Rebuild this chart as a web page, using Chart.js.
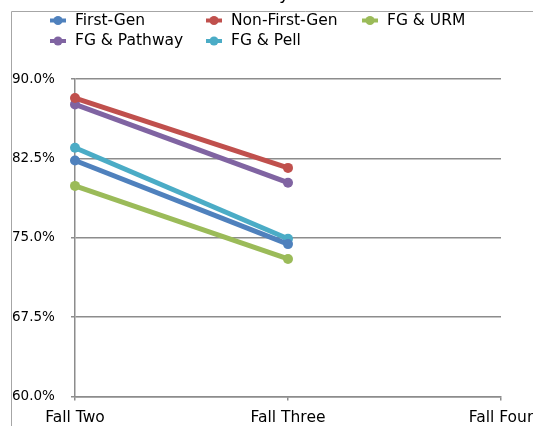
<!DOCTYPE html>
<html lang="en">
<head>
    <meta charset="UTF-8">
    <title>First-Gen persistence</title>
    <script src="https://cdn.jsdelivr.net/npm/chart.js"></script>
    <style>
        html, body { margin: 0; padding: 0; background: #fff; overflow: hidden; }
        #wrap { position: relative; width: 600px; height: 426px; }
    </style>
</head>
<body>
    <div id="wrap">
        <canvas id="persistChart" width="600" height="426"></canvas>
    </div>

    <script>
        // data
        const terms = ['Fall Two', 'Fall Three', 'Fall Four'];
        const seriesNames = ['First-Gen', 'Non-First-Gen', 'FG & URM', 'FG & Pathway', 'FG & Pell'];
        const firstGen = [82.3, 74.4, null];
        const nonFirstGen = [88.2, 81.6, null];
        const fgUrm = [79.9, 73.0, null];
        const fgPathway = [87.6, 80.2, null];
        const fgPell = [83.5, 74.9, null];
        const yTicks = [60, 67.5, 75, 82.5, 90];

        const colors = ['#4f81bd', '#c0504d', '#9bbb59', '#8064a2', '#4bacc6'];
        const values = [firstGen, nonFirstGen, fgUrm, fgPathway, fgPell];

        // frame + cut-off title + two-row legend like the excel original
        const decor = {
            id: 'decor',
            beforeDraw(chart) {
                const c = chart.ctx;
                c.save();
                c.strokeStyle = '#a6a6a6';
                c.lineWidth = 1;
                c.beginPath();
                c.moveTo(11.5, 426);
                c.lineTo(11.5, 11.5);
                c.lineTo(600, 11.5);
                c.stroke();
                c.fillStyle = '#000';
                c.font = '18px "DejaVu Sans"';
                c.textBaseline = 'alphabetic';
                c.fillText('y', 279, -1);
                c.restore();
            },
            afterDraw(chart) {
                const c = chart.ctx;
                const colX = [50, 206, 362];
                const rowY = [20.5, 41];
                c.save();
                c.font = '15.5px "DejaVu Sans"';
                c.textBaseline = 'middle';
                chart.data.datasets.forEach((ds, i) => {
                    const x = colX[i % 3];
                    const y = rowY[Math.floor(i / 3)];
                    c.strokeStyle = ds.borderColor;
                    c.lineWidth = 4;
                    c.beginPath();
                    c.moveTo(x, y);
                    c.lineTo(x + 16, y);
                    c.stroke();
                    c.fillStyle = ds.borderColor;
                    c.beginPath();
                    c.arc(x + 8, y, 4.5, 0, Math.PI * 2);
                    c.fill();
                    c.fillStyle = '#000';
                    c.fillText(ds.label, x + 25, y);
                });
                c.restore();
            }
        };

        const ctx = document.getElementById('persistChart').getContext('2d');
        new Chart(ctx, {
            type: 'line',
            data: {
                labels: terms,
                datasets: seriesNames.map((name, i) => ({
                    label: name,
                    data: values[i],
                    borderColor: colors[i],
                    backgroundColor: colors[i],
                    borderWidth: 5,
                    pointRadius: 5,
                    pointBorderWidth: 0,
                    tension: 0,
                    fill: false
                }))
            },
            options: {
                responsive: false,
                animation: false,
                layout: { padding: { left: 12, top: 79, right: 99, bottom: 0 } },
                plugins: {
                    legend: { display: false },
                    tooltip: { enabled: false }
                },
                scales: {
                    x: {
                        offset: false,
                        grid: { drawOnChartArea: false, drawTicks: true, tickLength: 4, color: '#8c8c8c', lineWidth: 1.5 },
                        border: { color: '#8c8c8c', width: 1.5 },
                        ticks: { color: '#000', font: { family: 'DejaVu Sans', size: 15.5 }, padding: 8, maxRotation: 0, autoSkip: false },
                        afterFit(scale) { scale.height = 29.5; }
                    },
                    y: {
                        min: 60,
                        max: 90,
                        afterBuildTicks(scale) { scale.ticks = yTicks.map(v => ({ value: v })); },
                        grid: { color: '#8c8c8c', lineWidth: 1.5, tickLength: 4 },
                        border: { color: '#8c8c8c', width: 1.5 },
                        ticks: {
                            color: '#000',
                            crossAlign: 'far',
                            font: { family: 'DejaVu Sans', size: 13.5 },
                            callback: v => v.toFixed(1) + '%'
                        },
                        afterFit(scale) { scale.width = 63; }
                    }
                }
            },
            plugins: [decor]
        });
    </script>
</body>
</html>
